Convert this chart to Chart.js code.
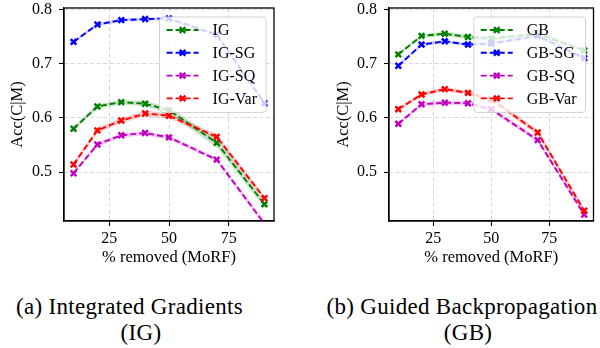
<!DOCTYPE html>
<html><head><meta charset="utf-8">
<script src="https://cdn.jsdelivr.net/npm/chart.js@4"></script>
<style>
html,body{margin:0;padding:0;background:#fff;}
body{width:600px;height:348px;position:relative;overflow:hidden;}
canvas{position:absolute;top:0;}
.cap{position:absolute;font-family:"Liberation Serif",serif;font-size:23px;line-height:26px;letter-spacing:0.3px;white-space:nowrap;color:#000;transform:translateX(-50%);}
</style></head><body>
<canvas id="c1" width="300" height="280" style="left:0"></canvas>
<canvas id="c2" width="300" height="280" style="left:300px"></canvas>
<div class="cap" style="left:129.5px;top:293.5px">(a) Integrated Gradients</div>
<div class="cap" style="left:141px;top:320px">(IG)</div>
<div class="cap" style="left:462px;top:293.5px">(b) Guided Backpropagation</div>
<div class="cap" style="left:468px;top:320px">(GB)</div>
<script>
// ---- data ----
const removedPct = [10, 20, 30, 40, 50, 70, 90];
const xTicks = [25, 50, 75];
const yTicks = [0.5, 0.6, 0.7, 0.8];
const xTitle = '% removed (MoRF)';
const yTitle = 'Acc(C|M)';

const igLabels = ['IG', 'IG-SG', 'IG-SQ', 'IG-Var'];
const ig    = [0.580, 0.621, 0.629, 0.626, 0.614, 0.554, 0.441];
const igSG  = [0.740, 0.772, 0.780, 0.782, 0.783, 0.753, 0.627];
const igSQ  = [0.498, 0.551, 0.568, 0.572, 0.564, 0.523, 0.405];
const igVar = [0.514, 0.577, 0.595, 0.608, 0.604, 0.565, 0.452];
const igSpread    = [0.004, 0.004, 0.004, 0.005, 0.006, 0.008, 0.006];
const igSGSpread  = [0.003, 0.003, 0.003, 0.003, 0.003, 0.004, 0.004];
const igSQSpread  = [0.003, 0.004, 0.004, 0.004, 0.004, 0.004, 0.005];
const igVarSpread = [0.004, 0.005, 0.005, 0.005, 0.005, 0.005, 0.005];

const gbLabels = ['GB', 'GB-SG', 'GB-SQ', 'GB-Var'];
const gb    = [0.717, 0.751, 0.755, 0.749, 0.746, 0.755, 0.724];
const gbSG  = [0.696, 0.735, 0.741, 0.735, 0.737, 0.751, 0.710];
const gbSQ  = [0.589, 0.625, 0.628, 0.627, 0.616, 0.559, 0.422];
const gbVar = [0.616, 0.643, 0.653, 0.646, 0.634, 0.573, 0.429];
const gbSpread    = [0.003, 0.003, 0.004, 0.004, 0.004, 0.004, 0.004];
const gbSGSpread  = [0.003, 0.003, 0.003, 0.003, 0.003, 0.004, 0.004];
const gbSQSpread  = [0.003, 0.004, 0.004, 0.004, 0.004, 0.005, 0.005];
const gbVarSpread = [0.003, 0.004, 0.004, 0.004, 0.004, 0.005, 0.005];

const seriesColors = ['#008000', '#0000ff', '#bf00bf', '#ff0000'];
const bandColors = ['rgba(0,128,0,0.22)', 'rgba(0,0,255,0.18)', 'rgba(191,0,191,0.2)', 'rgba(255,0,0,0.2)'];

// ---- helpers ----
const FONT = '"Liberation Serif", "DejaVu Serif", serif';

function drawX(ctx, x, y, r, lw, color) {
  ctx.save();
  ctx.strokeStyle = color; ctx.lineWidth = lw; ctx.setLineDash([]); ctx.lineCap = 'butt';
  ctx.beginPath();
  ctx.moveTo(x - r, y - r); ctx.lineTo(x + r, y + r);
  ctx.moveTo(x + r, y - r); ctx.lineTo(x - r, y + r);
  ctx.stroke();
  ctx.restore();
}

const legendInside = {
  id: 'legendInside',
  afterDatasetsDraw(chart, args, opts) {
    const {ctx, chartArea} = chart;
    const items = opts.items || [];
    ctx.save();
    ctx.font = '16px ' + FONT;
    const tw = Math.max(...items.map(i => ctx.measureText(i.label).width));
    const w = 53 + tw + 9;
    const right = chartArea.right - 8, top = chartArea.top + 9;
    const left = right - w;
    const rowH = 22.8, h = 13 + rowH * 3 + 14;
    ctx.beginPath();
    if (ctx.roundRect) ctx.roundRect(left, top, w, h, 3); else ctx.rect(left, top, w, h);
    ctx.fillStyle = 'rgba(255,255,255,0.8)';
    ctx.fill();
    ctx.strokeStyle = '#d0d0d0'; ctx.lineWidth = 1;
    ctx.stroke();
    items.forEach((it, i) => {
      const y = top + 13 + i * rowH;
      ctx.save();
      ctx.setLineDash([6, 3]);
      ctx.lineWidth = 1.9; ctx.strokeStyle = it.color;
      ctx.beginPath(); ctx.moveTo(left + 7, y); ctx.lineTo(left + 39, y); ctx.stroke();
      ctx.restore();
      drawX(ctx, left + 23, y, 2.8, 2.5, it.color);
      ctx.fillStyle = '#000'; ctx.textBaseline = 'middle'; ctx.textAlign = 'left';
      ctx.fillText(it.label, left + 53, y + 1);
    });
    ctx.restore();
  }
};

const frame = {
  id: 'frame',
  afterDraw(chart) {
    const {ctx, chartArea: a} = chart;
    ctx.save();
    ctx.strokeStyle = '#000'; ctx.lineWidth = 1.3; ctx.setLineDash([]);
    ctx.strokeRect(a.left, a.top, a.right - a.left, a.bottom - a.top);
    ctx.restore();
  }
};

function makeChart(id, labels, values, spreads, yAxisWidth, yTitlePad, padRight) {
  const datasets = [];
  values.forEach((vals, i) => {
    datasets.push({
      label: labels[i] + ' upper',
      data: removedPct.map((x, k) => ({x, y: vals[k] + spreads[i][k]})),
      borderWidth: 0, pointRadius: 0, fill: false, order: 20 + i, clip: 0,
      backgroundColor: bandColors[i], borderColor: 'rgba(0,0,0,0)'
    });
    datasets.push({
      label: labels[i] + ' lower',
      data: removedPct.map((x, k) => ({x, y: vals[k] - spreads[i][k]})),
      borderWidth: 0, pointRadius: 0, fill: '-1', order: 20 + i, clip: 0,
      backgroundColor: bandColors[i], borderColor: 'rgba(0,0,0,0)'
    });
  });
  values.forEach((vals, i) => {
    datasets.push({
      label: labels[i],
      data: removedPct.map((x, k) => ({x, y: vals[k]})),
      borderColor: seriesColors[i], backgroundColor: seriesColors[i],
      borderWidth: 1.9, borderDash: [6, 3], fill: false, tension: 0,
      pointStyle: 'crossRot', pointRadius: 4, pointBorderWidth: 2.5,
      pointBorderColor: seriesColors[i], pointBackgroundColor: seriesColors[i],
      pointHoverRadius: 4, order: 10 - i, clip: 0
    });
  });
  const gridCommon = {
    color: 'rgba(190,190,190,0.75)', lineWidth: 0.8,
    tickColor: '#000', tickLength: 5, tickWidth: 1.1, tickBorderDash: [], drawTicks: true
  };
  return new Chart(document.getElementById(id), {
    type: 'line',
    data: {datasets},
    plugins: [legendInside, frame],
    options: {
      responsive: false, animation: false, devicePixelRatio: 1,
      layout: {padding: {left: 0, right: padRight, top: 8, bottom: 9}},
      plugins: {
        legend: {display: false}, tooltip: {enabled: false},
        legendInside: {items: labels.map((l, i) => ({label: l, color: seriesColors[i]}))}
      },
      scales: {
        x: {
          type: 'linear', min: 6, max: 94,
          afterBuildTicks: s => { s.ticks = xTicks.map(v => ({value: v})); },
          afterFit: s => { s.height = 50; s.paddingLeft = 0; s.paddingRight = 0; },
          ticks: {font: {family: FONT, size: 16}, color: '#000', padding: 3, maxRotation: 0,
                  callback: v => String(v)},
          grid: gridCommon,
          border: {display: true, color: '#000', width: 1.2, dash: [4, 2.5]},
          title: {display: true, text: xTitle, font: {family: FONT, size: 16.5}, color: '#000',
                  padding: {top: 0, bottom: 3}}
        },
        y: {
          type: 'linear', min: 0.41, max: 0.8024,
          afterBuildTicks: s => { s.ticks = yTicks.map(v => ({value: v})); },
          afterFit: s => { s.width = yAxisWidth; s.paddingTop = 0; s.paddingBottom = 0; },
          ticks: {font: {family: FONT, size: 16}, color: '#000', padding: 7,
                  callback: v => v.toFixed(1)},
          grid: gridCommon,
          border: {display: true, color: '#000', width: 1.2, dash: [4, 2.5]},
          title: {display: true, text: yTitle, font: {family: FONT, size: 16.5}, color: '#000',
                  padding: {top: yTitlePad, bottom: 0}}
        }
      }
    }
  });
}

makeChart('c1', igLabels, [ig, igSG, igSQ, igVar],
          [igSpread, igSGSpread, igSQSpread, igVarSpread], 64, 7.6, 26);
makeChart('c2', gbLabels, [gb, gbSG, gbSQ, gbVar],
          [gbSpread, gbSGSpread, gbSQSpread, gbVarSpread], 89, 34, 1);
</script>
</body></html>
